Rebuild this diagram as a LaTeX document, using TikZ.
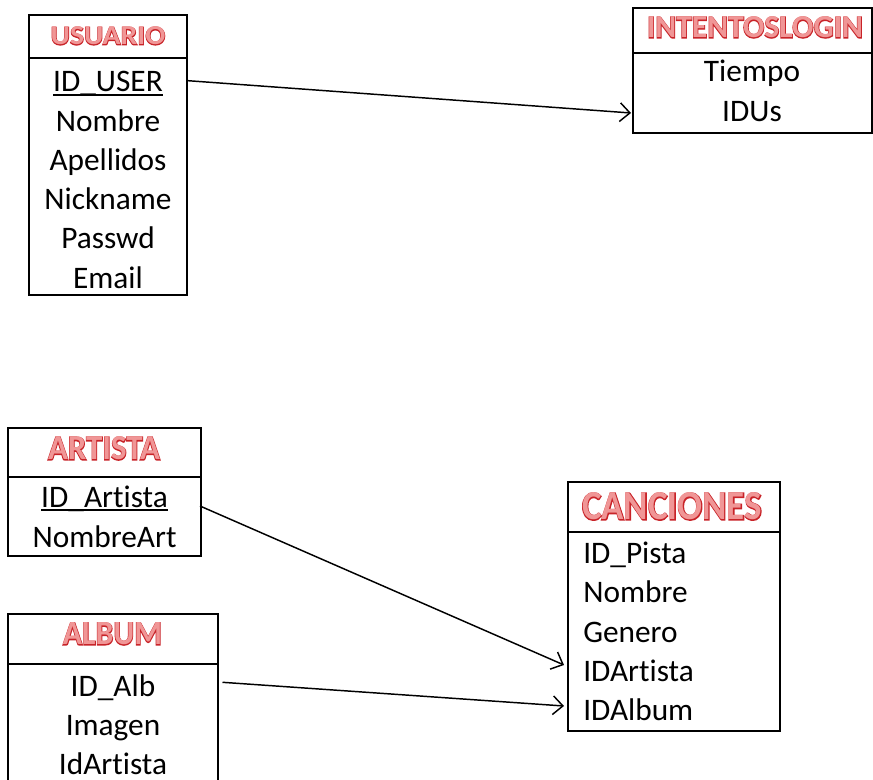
\documentclass[tikz,border=0pt]{standalone}
\usepackage{fontspec}
\usetikzlibrary{arrows.meta,calc}
\setmainfont{Carlito}[Ligatures=NoCommon]
\newfontfamily\titlefat[FakeBold=4,Ligatures=NoCommon]{Carlito Bold}
\newfontfamily\titleface[Ligatures=NoCommon]{Carlito Bold}
\definecolor{wared}{RGB}{200,35,40}
\definecolor{wapink}{RGB}{240,150,150}
% outlined word-art style heading, scaled to a given width and cap height
\newcommand\arttitle[3]{\resizebox{#1}{#2}{\rlap{\titlefat\color{wared}#3}{\titleface\color{wapink}#3}}}
% key attribute: underlined name
\newcommand\keyline[1]{\setbox0\hbox{#1}\rlap{\rule[-3pt]{\wd0}{1.4pt}}\box0}
\tikzset{
  tbox/.style={draw, line width=1.5pt, inner sep=0pt},
  rowtxt/.style={inner sep=0pt, font=\fontsize{23.5}{28}\selectfont},
  ttl/.style={inner sep=0pt},
  conn/.style={line width=1.1pt, -{Straight Barb[length=7.5pt,width=14pt,line width=1.1pt]}}
}
\begin{document}
\begin{tikzpicture}[x=0.75pt,y=-0.75pt]
\clip (0,0) rectangle (873,780);
\fill[white] (0,0) rectangle (873,780);

% USUARIO
\node[tbox, minimum width=0.75*158pt, minimum height=0.75*43pt] (usrT) at (108,36.5) {};
\node[tbox, minimum width=0.75*158pt, minimum height=0.75*237pt] (usrB) at (108,176.5) {};
\node[ttl] (usrN) at (108,36) {\arttitle{86pt}{13.5pt}{USUARIO}};
\node[rowtxt, anchor=base] (idU) at (108,92) {\keyline{ID\_USER}};
\node[rowtxt, anchor=base] (uNom) at (108,131.3) {Nombre};
\node[rowtxt, anchor=base] (uApe) at (108,170.5) {Apellidos};
\node[rowtxt, anchor=base] (uNick) at (108,209.8) {Nickname};
\node[rowtxt, anchor=base] (uPass) at (108,249) {Passwd};
\node[rowtxt, anchor=base] (uMail) at (108,288.3) {Email};

% INTENTOSLOGIN
\node[tbox, minimum width=0.75*239pt, minimum height=0.75*45pt] (intT) at (752.5,30.5) {};
\node[tbox, minimum width=0.75*239pt, minimum height=0.75*80pt] (intB) at (752.5,93) {};
\node[ttl] (intN) at (755,27.5) {\arttitle{162pt}{15.75pt}{INTENTOSLOGIN}};
\node[rowtxt, anchor=base] (tiem) at (752,82) {Tiempo};
\node[rowtxt, anchor=base] (idus) at (752,122) {IDUs};

% ARTISTA
\node[tbox, minimum width=0.75*193pt, minimum height=0.75*49pt] (artT) at (104.5,452.5) {};
\node[tbox, minimum width=0.75*193pt, minimum height=0.75*79pt] (artB) at (104.5,516.5) {};
\node[ttl] (artN) at (104,448.5) {\arttitle{84pt}{17.25pt}{ARTISTA}};
\node[rowtxt, anchor=base] (idArt) at (104.5,507) {\keyline{ID\_Artista}};
\node[rowtxt, anchor=base] (nArt) at (104.5,547) {NombreArt};

% ALBUM
\node[tbox, minimum width=0.75*210pt, minimum height=0.75*50pt] (albT) at (113,639) {};
\node[tbox, minimum width=0.75*210pt, minimum height=0.75*130pt] (albB) at (113,729) {};
\node[ttl] (albN) at (112.5,634) {\arttitle{74.25pt}{16.5pt}{ALBUM}};
\node[rowtxt, anchor=base] (idAlb) at (113,696) {ID\_Alb};
\node[rowtxt, anchor=base] (aImg) at (113,735) {Imagen};
\node[rowtxt, anchor=base] (aIdArt) at (113,774) {IdArtista};

% CANCIONES
\node[tbox, minimum width=0.75*212pt, minimum height=0.75*50pt] (canT) at (674,507) {};
\node[tbox, minimum width=0.75*212pt, minimum height=0.75*199pt] (canB) at (674,631.5) {};
\node[ttl] (canN) at (672,506.5) {\arttitle{135pt}{20.25pt}{CANCIONES}};
\node[rowtxt, anchor=base west] (cIdP) at (583,563) {ID\_Pista};
\node[rowtxt, anchor=base west] (cNom) at (583,602.5) {Nombre};
\node[rowtxt, anchor=base west] (cGen) at (583,642) {Genero};
\node[rowtxt, anchor=base west] (cIdArt) at (583,681) {IDArtista};
\node[rowtxt, anchor=base west] (cIdAlb) at (583,720) {IDAlbum};

% relations
\draw[conn] ($(idU.base -| usrB.east)+(0,-11.3)$) -- ($(idus.base -| intB.west)+(-1,-9)$);
\draw[conn] ($(idArt.base -| artB.east)+(-2,-1)$) -- ($(cIdArt.base -| canB.west)+(-3,-16)$);
\draw[conn] ($(idAlb.base -| albB.east)+(3.5,-13.7)$) -- ($(cIdAlb.base -| canB.west)+(-3,-14)$);
\end{tikzpicture}
\end{document}
